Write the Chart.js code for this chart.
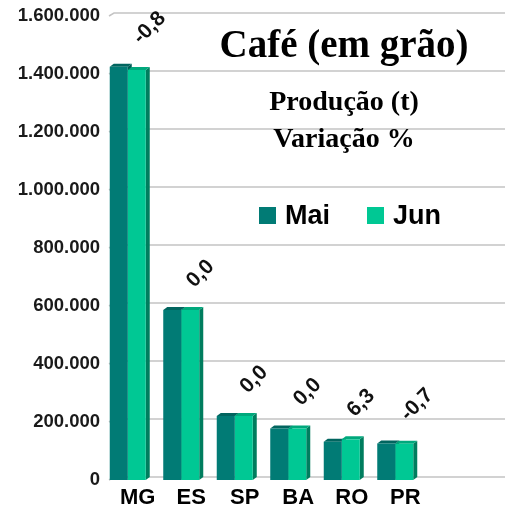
<!DOCTYPE html>
<html><head><meta charset="utf-8">
<script src="https://cdn.jsdelivr.net/npm/chart.js@4"></script>
<style>html,body{margin:0;padding:0;background:#fff;}#wrap{width:505px;height:511px;}</style>
</head><body><div id="wrap"><canvas id="c" width="505" height="511"></canvas></div>
<script>
const categories = ['MG', 'ES', 'SP', 'BA', 'RO', 'PR'];
const seriesNames = ['Mai', 'Jun'];
const maiValues = [1425000, 586000, 221000, 178000, 132000, 126000];
const junValues = [1413600, 586000, 221000, 178000, 140300, 125100];
const variationLabels = ['-0,8', '0,0', '0,0', '0,0', '6,3', '-0,7'];
const yTickValues = [0, 200000, 400000, 600000, 800000, 1000000, 1200000, 1400000, 1600000];
const titleText = 'Café (em grão)';
const subtitleLines = ['Produção (t)', 'Variação %'];

const colors = {
  mai: '#017b75', maiTop: '#01655f', maiSide: '#015c57',
  jun: '#00c894', junTop: '#00a87c', junSide: '#007d5e'
};
const DX = 4, DY = 3;

function fmt(v) {
  return String(v).replace(/\B(?=(\d{3})+(?!\d))/g, '.');
}

function poly(ctx, pts, fill) {
  ctx.beginPath();
  ctx.moveTo(pts[0][0], pts[0][1]);
  for (let i = 1; i < pts.length; i++) ctx.lineTo(pts[i][0], pts[i][1]);
  ctx.closePath();
  ctx.fillStyle = fill;
  ctx.fill();
}

const decor = {
  id: 'decor',
  beforeDatasetsDraw(chart) {
    const ctx = chart.ctx;
    const ys = chart.scales.y;
    const left = chart.chartArea.left;
    ctx.save();
    ctx.strokeStyle = '#c4c4c4';
    ctx.lineWidth = 1.5;
    ys.ticks.forEach(t => {
      const y = ys.getPixelForValue(t.value);
      ctx.beginPath();
      ctx.moveTo(left + 8, y);
      ctx.lineTo(left + 13, y - DY);
      ctx.lineTo(chart.width, y - DY);
      ctx.stroke();
    });
    const faces = [[colors.maiSide, colors.maiTop], [colors.junSide, colors.junTop]];
    [0, 1].forEach(d => {
      const meta = chart.getDatasetMeta(d);
      meta.data.forEach(el => {
        const l = el.x - el.width / 2, r = el.x + el.width / 2, top = el.y, base = el.base;
        poly(ctx, [[r, top], [r + DX, top - DY], [r + DX, base - DY], [r, base]], faces[d][0]);
        poly(ctx, [[l, top], [l + DX, top - DY], [r + DX, top - DY], [r, top]], faces[d][1]);
      });
    });
    ctx.restore();
  },
  afterDraw(chart) {
    const ctx = chart.ctx;
    ctx.save();
    // data labels
    const m0 = chart.getDatasetMeta(0), m1 = chart.getDatasetMeta(1);
    ctx.font = 'bold 21px "Liberation Sans", Arial, sans-serif';
    ctx.fillStyle = '#111';
    ctx.textAlign = 'left';
    ctx.textBaseline = 'middle';
    variationLabels.forEach((txt, i) => {
      const a = m0.data[i], b = m1.data[i];
      const top = Math.min(a.y, b.y);
      ctx.save();
      ctx.translate(b.x, top - 26);
      ctx.rotate(-Math.PI / 4);
      ctx.fillText(txt, 0, 0);
      ctx.restore();
    });
    // title
    const cx = 344;
    ctx.textAlign = 'center';
    ctx.textBaseline = 'alphabetic';
    ctx.fillStyle = '#000';
    ctx.font = 'bold 39px "Liberation Serif", "Times New Roman", serif';
    ctx.fillText(titleText, cx, 57);
    ctx.font = 'bold 28px "Liberation Serif", "Times New Roman", serif';
    ctx.fillText(subtitleLines[0], cx, 110);
    ctx.fillText(subtitleLines[1], cx, 147);
    // legend
    ctx.textAlign = 'left';
    ctx.font = 'bold 27px "Liberation Sans", Arial, sans-serif';
    const legendX = [259, 367];
    chart.data.datasets.forEach((ds, i) => {
      ctx.fillStyle = ds.backgroundColor;
      ctx.fillRect(legendX[i], 207, 17, 17);
      ctx.fillStyle = '#000';
      ctx.fillText(ds.label, legendX[i] + 26, 224);
    });
    ctx.restore();
  }
};

new Chart(document.getElementById('c'), {
  type: 'bar',
  data: {
    labels: categories,
    datasets: [
      { label: seriesNames[0], data: maiValues, backgroundColor: colors.mai },
      { label: seriesNames[1], data: junValues, backgroundColor: colors.jun }
    ]
  },
  options: {
    responsive: false,
    animation: false,
    devicePixelRatio: 1,
    layout: { padding: { top: 16, right: 83, bottom: 0, left: 0 } },
    datasets: { bar: { categoryPercentage: 0.673, barPercentage: 1.0, borderWidth: 0 } },
    plugins: { legend: { display: false }, tooltip: { enabled: false } },
    scales: {
      x: {
        grid: { display: false, drawTicks: false },
        border: { display: false },
        ticks: {
          padding: 5, labelOffset: 10, color: '#000',
          font: { family: '"Liberation Sans", Arial, sans-serif', size: 22, weight: 'bold' }
        },
        afterFit(s) { s.height = 31; }
      },
      y: {
        min: 0, max: 1600000,
        afterBuildTicks(s) { s.ticks = yTickValues.map(v => ({ value: v })); },
        grid: { display: false, drawTicks: false },
        border: { display: false },
        ticks: {
          padding: 1, color: '#1a1a1a',
          font: { family: '"Liberation Sans", Arial, sans-serif', size: 18.5, weight: 'bold' },
          callback: v => fmt(v)
        },
        afterFit(s) { s.width = 101; }
      }
    }
  },
  plugins: [decor]
});
</script>
</body></html>
